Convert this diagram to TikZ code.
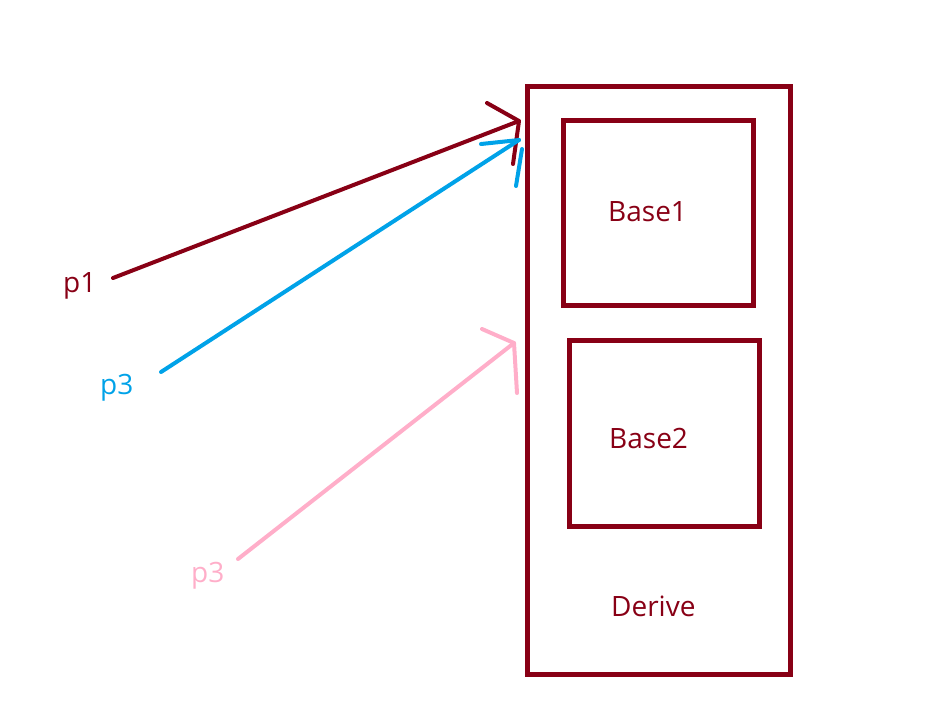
\documentclass[tikz,border=0pt]{standalone}
\usepackage{fontspec}
\setmainfont{Open Sans}
\definecolor{pdred}{RGB}{136,0,21}
\definecolor{pblue}{RGB}{0,162,232}
\definecolor{ppink}{RGB}{255,174,201}
\begin{document}
\begin{tikzpicture}[x=1pt,y=-1pt,
  box/.style={draw=pdred,line width=5pt,rectangle,inner sep=0pt,outer sep=0pt},
  lbl/.style={inner sep=0pt,anchor=base west,font=\fontsize{28}{30}\selectfont},
  pen/.style={line width=4pt,line cap=round,line join=round}]
\useasboundingbox (0,0) rectangle (927,716);
\node[box,minimum width=263pt,minimum height=587.5pt] (derive) at (659,380.25) {};
\node[box,minimum width=190pt,minimum height=184.5pt] (base1) at (658.5,212.75) {};
\node[box,minimum width=190pt,minimum height=185.5pt] (base2) at (664.5,433.25) {};
\node[lbl,text=pdred] (t1) at (608,221) {Base1};
\node[lbl,text=pdred] (t2) at (609,448) {Base2};
\node[lbl,text=pdred] (t3) at (611,616) {Derive};
\node[lbl,text=pdred] (p1) at (63,292) {p1};
\node[lbl,text=pblue] (p3a) at (100,394) {p3};
\node[lbl,text=ppink] (p3b) at (191,582) {p3};
% arrow p1
\coordinate (s1) at (113,278);
\coordinate (e1) at (519,121);
\draw[pen,pdred] (s1) -- (e1);
\draw[pen,pdred] (487,103) -- (e1) -- (513,164);
% arrow p3 blue
\coordinate (s2) at (161,372);
\coordinate (e2) at (519,140);
\draw[pen,pblue] (s2) -- (e2);
\draw[pen,pblue] (481,144) -- (e2);
\draw[pen,pblue] (522,149) -- (516,186);
% arrow p3 pink
\coordinate (s3) at (238,559);
\coordinate (e3) at (514,343);
\draw[pen,ppink] (s3) -- (e3);
\draw[pen,ppink] (482,329) -- (e3) -- (517,393);
\end{tikzpicture}
\end{document}
